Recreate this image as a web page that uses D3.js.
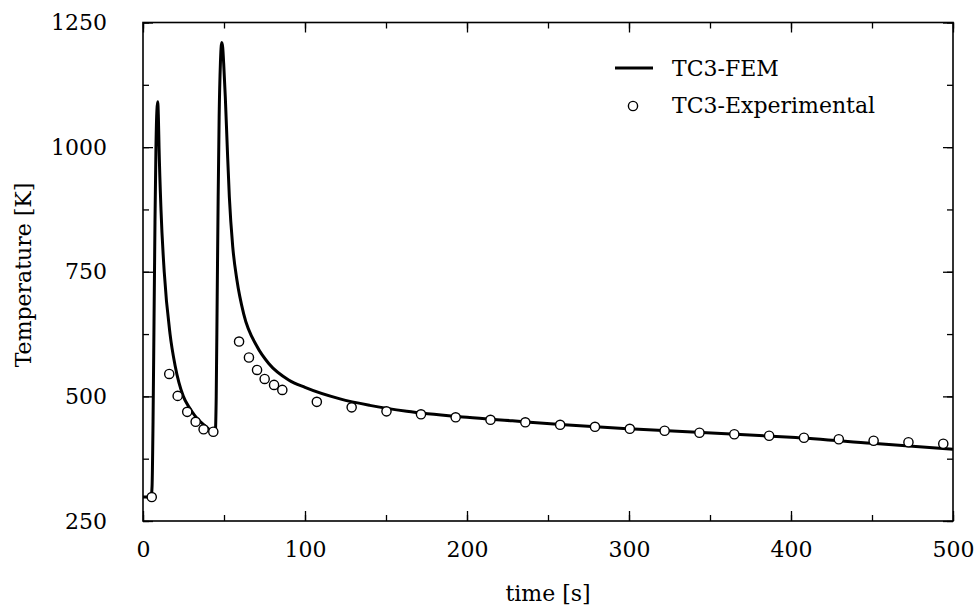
<!DOCTYPE html>
<html>
<head>
<meta charset="utf-8">
<script src="https://cdn.jsdelivr.net/npm/d3@7"></script>
<style>
  body { margin: 0; background: #fff; }
  text { font-family: "DejaVu Serif", "Liberation Serif", serif; fill: #000; }
</style>
</head>
<body>
<div id="chart"></div>
<script>
// FEM simulation curve (time [s], temperature [K])
const femTime = [0, 5, 5.6, 6.2, 6.8, 7.4, 8.0, 8.6, 9.1, 9.5, 9.9, 11.1, 13.1, 16.7, 19.8, 24.9, 28.5, 32.1, 38.3, 43.4,
                 44.6, 45.2, 45.8, 46.4, 47.0, 47.8, 48.6, 49.2, 49.8, 50.8, 52, 53.3, 55.4, 58, 62.1, 70.4, 77.6, 89.9,
                 100, 121.6, 140, 162.8, 200, 228, 260, 300, 360, 400, 450, 500];
const femTemp = [298, 298, 320, 450, 650, 850, 1000, 1075, 1091, 1060, 1000, 875, 750, 625, 562, 500, 478, 461, 441, 429,
                 428, 500, 700, 900, 1060, 1170, 1210, 1200, 1168, 1101, 1001, 900, 800, 733, 666, 600, 566, 533,
                 518, 495, 482, 470, 458, 451, 443, 435, 425, 418, 406, 394];

// experimental thermocouple readings
const expTime = [5.4, 16.2, 21.4, 27.3, 32.5, 37.4, 43.4, 59.3, 65.4, 70.4, 75.1, 80.9, 86, 107.3, 128.8, 150.3, 171.6, 193,
                 214.5, 236, 257.5, 279, 300.5, 322, 343.5, 365, 386.5, 408, 429.5, 451, 472.5, 494];
const expTemp = [298, 545, 501, 469, 449, 434, 429, 610, 578, 553, 535, 523, 513, 489, 478, 470, 464, 458, 453, 448, 443, 439,
                 435, 431, 427, 424, 421, 417, 414, 411, 408, 405];

const xTicks = [0, 100, 200, 300, 400, 500];
const yTicks = [250, 500, 750, 1000, 1250];
const seriesNames = ["TC3-FEM", "TC3-Experimental"];

const fem = femTime.map((t, i) => ({t: t, v: femTemp[i]}));
const exp = expTime.map((t, i) => ({t: t, v: expTemp[i]}));

const W = 974, H = 616;
const margin = {top: 22.5, right: 21, bottom: 95, left: 143};
const width = W - margin.left - margin.right,
      height = H - margin.top - margin.bottom;

const svg = d3.select("#chart").append("svg")
  .attr("width", W)
  .attr("height", H);

const g = svg.append("g").attr("transform", `translate(${margin.left},${margin.top})`);

const x = d3.scaleLinear().domain([0, 500]).range([0, width]);
const y = d3.scaleLinear().domain([250, 1250]).range([height, 0]);

// ticks pointing inward on all four sides
const minorX = d3.range(0, 501, 50), minorY = d3.range(250, 1251, 125);
function tickAxes(axisFn, scale, vals, len, tr) {
  g.append("g")
   .attr("transform", tr)
   .call(axisFn(scale).tickValues(vals).tickSize(-len).tickFormat(""))
   .call(s => s.select(".domain").remove())
   .call(s => s.selectAll("line").attr("stroke", "#000").attr("stroke-width", 1.3));
}
tickAxes(d3.axisBottom, x, minorX, 6, `translate(0,${height})`);
tickAxes(d3.axisTop, x, minorX, 6, "translate(0,0)");
tickAxes(d3.axisLeft, y, minorY, 6, "translate(0,0)");
tickAxes(d3.axisRight, y, minorY, 6, `translate(${width},0)`);
tickAxes(d3.axisBottom, x, xTicks, 10, `translate(0,${height})`);
tickAxes(d3.axisTop, x, xTicks, 10, "translate(0,0)");
tickAxes(d3.axisLeft, y, yTicks, 10, "translate(0,0)");
tickAxes(d3.axisRight, y, yTicks, 10, `translate(${width},0)`);

// tick labels
g.append("g")
 .attr("transform", `translate(0,${height})`)
 .call(d3.axisBottom(x).tickValues(xTicks).tickSize(0).tickPadding(20).tickFormat(d3.format("d")))
 .call(s => s.select(".domain").remove())
 .call(s => s.selectAll("text").style("font-size", "22px").style("font-family", null));

g.append("g")
 .call(d3.axisLeft(y).tickValues(yTicks).tickSize(0).tickPadding(36).tickFormat(d3.format("d")))
 .call(s => s.select(".domain").remove())
 .call(s => s.selectAll("text").style("font-size", "22px").style("font-family", null));

// FEM line
const line = d3.line()
  .x(d => x(d.t))
  .y(d => y(d.v))
  .curve(d3.curveMonotoneX);

g.append("path")
 .datum(fem)
 .attr("fill", "none")
 .attr("stroke", "#000")
 .attr("stroke-width", 3)
 .attr("stroke-linejoin", "round")
 .attr("d", line);

// experimental points
g.selectAll("circle.exp")
 .data(exp)
 .enter()
 .append("circle")
 .attr("class", "exp")
 .attr("cx", d => x(d.t))
 .attr("cy", d => y(d.v))
 .attr("r", 4.6)
 .attr("fill", "#fff")
 .attr("stroke", "#000")
 .attr("stroke-width", 1.4);

// frame
g.append("rect")
 .attr("width", width)
 .attr("height", height)
 .attr("fill", "none")
 .attr("stroke", "#000")
 .attr("stroke-width", 1.6);

// legend
const leg = svg.append("g");
leg.append("line")
   .attr("x1", 615).attr("x2", 653)
   .attr("y1", 68).attr("y2", 68)
   .attr("stroke", "#000").attr("stroke-width", 3);
leg.append("text").attr("x", 672).attr("y", 76).style("font-size", "22px").text(seriesNames[0]);
leg.append("circle")
   .attr("cx", 633).attr("cy", 106).attr("r", 4.6)
   .attr("fill", "#fff").attr("stroke", "#000").attr("stroke-width", 1.4);
leg.append("text").attr("x", 672).attr("y", 113).style("font-size", "22px").text(seriesNames[1]);

// axis titles
svg.append("text")
   .attr("x", margin.left + width / 2)
   .attr("y", 601)
   .attr("text-anchor", "middle")
   .style("font-size", "22px")
   .text("time [s]");

svg.append("text")
   .attr("transform", `translate(31,275) rotate(-90)`)
   .attr("text-anchor", "middle")
   .style("font-size", "22px")
   .text("Temperature [K]");
</script>
</body>
</html>
